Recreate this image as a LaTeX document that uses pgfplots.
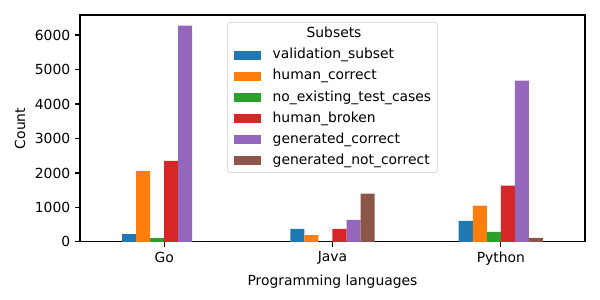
\documentclass[border=0pt]{standalone}
\usepackage{fontspec}
\setmainfont{DejaVu Sans}
\usepackage{pgfplots}
\pgfplotsset{compat=1.18}
\definecolor{c1}{HTML}{1F77B4}
\definecolor{c2}{HTML}{FF7F0E}
\definecolor{c3}{HTML}{2CA02C}
\definecolor{c4}{HTML}{D62728}
\definecolor{c5}{HTML}{9467BD}
\definecolor{c6}{HTML}{8C564B}
\pgfplotsset{/pgfplots/ybar legend/.style={/pgfplots/legend image code/.code={\fill[##1, sharp corners, fill opacity=1] (0pt,-3.3pt) rectangle (19.4pt,3.3pt);}}}
\begin{document}
\begin{tikzpicture}
\useasboundingbox (0,0) rectangle (432pt,216pt);
\begin{axis}[
  at={(57.6pt,41.8pt)}, anchor=south west,
  scale only axis, width=363.6pt, height=163.4pt,
  xmin=-0.5, xmax=2.5, ymin=0, ymax=6580,
  ybar=0pt, bar width=0.08333,
  xtick={0,1,2}, xticklabels={Go,Java,Python},
  ytick={0,1000,2000,3000,4000,5000,6000},
  tick align=outside, major tick length=3.5pt, tick pos=left,
  tick style={line width=0.8pt, black},
  axis line style={line width=0.8pt},
  /pgf/number format/assume math mode=true,
  /pgf/number format/1000 sep={},
  scaled y ticks=false,
  ticklabel style={font=\fontsize{10}{12}\selectfont},
  label style={font=\fontsize{10}{12}\selectfont},
  xlabel={Programming languages}, ylabel={Count},
  legend cell align=left,
  legend style={at={(0.5,0.969)}, anchor=north, draw=black!20, rounded corners=2pt,
    fill=white, fill opacity=0.8, text opacity=1, font=\fontsize{10}{12}\selectfont,
    inner xsep=4.5pt, inner ysep=3.5pt, row sep=5.2pt, column sep=0pt,
    nodes={inner xsep=0pt, inner ysep=0pt, text height=7.6pt, text depth=2.4pt}},
]
\addlegendimage{empty legend}
\addlegendentry{\hspace*{33pt}Subsets}
\addplot[fill=c1, draw=none, bar shift=-0.20833] coordinates {(0,230) (1,380) (2,610)};
\addlegendentry{\hspace*{8.6pt}validation\_subset}
\addplot[fill=c2, draw=none, bar shift=-0.125] coordinates {(0,2060) (1,200) (2,1050)};
\addlegendentry{\hspace*{8.6pt}human\_correct}
\addplot[fill=c3, draw=none, bar shift=-0.04167] coordinates {(0,110) (1,0) (2,290)};
\addlegendentry{\hspace*{8.6pt}no\_existing\_test\_cases}
\addplot[fill=c4, draw=none, bar shift=0.04167] coordinates {(0,2350) (1,380) (2,1630)};
\addlegendentry{\hspace*{8.6pt}human\_broken}
\addplot[fill=c5, draw=none, bar shift=0.125] coordinates {(0,6270) (1,640) (2,4680)};
\addlegendentry{\hspace*{8.6pt}generated\_correct}
\addplot[fill=c6, draw=none, bar shift=0.20833] coordinates {(0,0) (1,1400) (2,115)};
\addlegendentry{\hspace*{8.6pt}generated\_not\_correct}
\end{axis}
\end{tikzpicture}
\end{document}
